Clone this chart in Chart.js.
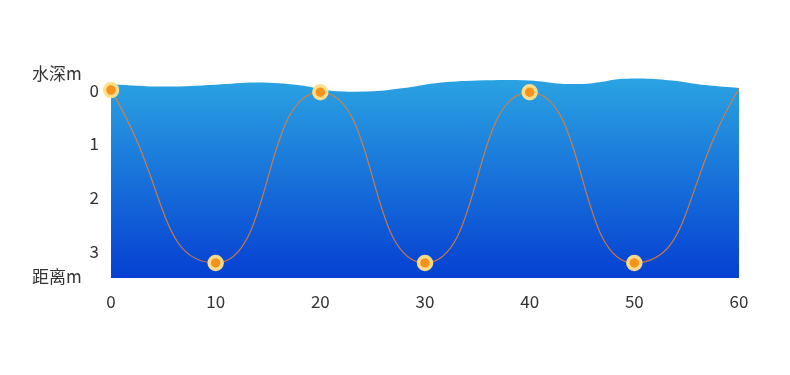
<!DOCTYPE html>
<html>
<head>
<meta charset="utf-8">
<script src="https://cdn.jsdelivr.net/npm/chart.js@4/dist/chart.umd.min.js"></script>
<style>
  body { margin: 0; background: #fff; }
  #wrap { width: 790px; height: 375px; }
</style>
</head>
<body>
<div id="wrap"><canvas id="depthChart" width="790" height="375"></canvas></div>
<script>
// distance along the route (m) and the depth of the dive path (m)
const distance = [0, 10, 20, 30, 40, 50, 60];
const depth = [0, 3.22, 0.04, 3.22, 0.04, 3.22, -0.03];
const markerShown = [true, true, true, true, true, true, false];

// water surface (wave)
const waveX = [0, 5, 10, 14, 18, 21, 25, 28, 31, 35, 40, 43, 46, 49, 53, 57, 60];
const waveDepth = [-0.11, -0.065, -0.10, -0.14, -0.09, 0.01, 0.02, -0.04, -0.13, -0.18, -0.18, -0.12, -0.13, -0.21, -0.19, -0.09, -0.04];

const xTicks = [0, 10, 20, 30, 40, 50, 60];
const yTicks = [0, 1, 2, 3];
const yGrid = [0, 0.5, 1, 1.5, 2, 2.5, 3, 3.5];

const yTitle = '水深m';
const xTitle = '距离m';
const font = '"Noto Sans CJK SC", "Noto Sans", sans-serif';

const axisTitles = {
    id: 'axisTitles',
    afterDraw(chart) {
        const c = chart.ctx;
        c.save();
        c.font = '17px ' + font;
        c.fillStyle = '#333';
        c.textAlign = 'left';
        c.textBaseline = 'middle';
        c.fillText(yTitle, 32, 74);
        c.fillText(xTitle, 32, 277);
        c.restore();
    }
};

const ctx = document.getElementById('depthChart').getContext('2d');
const depthChart = new Chart(ctx, {
    type: 'line',
    data: {
        datasets: [
            {
                label: 'path',
                data: distance.map((d, i) => ({ x: d, y: depth[i] })),
                borderColor: 'rgba(235, 125, 45, 0.85)',
                borderWidth: 1.2,
                tension: 0.55,
                pointRadius: markerShown.map(s => s ? 6.5 : 0),
                pointBackgroundColor: '#f7921c',
                pointBorderColor: 'rgba(255, 224, 140, 0.95)',
                pointBorderWidth: 3.5,
                fill: false,
                clip: false,
                order: 0
            },
            {
                label: 'water',
                data: waveX.map((d, i) => ({ x: d, y: waveDepth[i] })),
                borderWidth: 0,
                pointRadius: 0,
                tension: 0.4,
                fill: { value: 3.5 },
                backgroundColor: (c) => {
                    const area = c.chart.chartArea;
                    if (!area) return '#1f7fe0';
                    const g = c.chart.ctx.createLinearGradient(0, area.top, 0, area.bottom);
                    g.addColorStop(0, '#2ba6e2');
                    g.addColorStop(1, '#0540d2');
                    return g;
                },
                order: 1
            }
        ]
    },
    options: {
        responsive: false,
        animation: false,
        layout: { padding: { top: 74, right: 51, left: 0, bottom: 0 } },
        scales: {
            x: {
                type: 'linear',
                min: 0,
                max: 60,
                z: 1,
                border: { display: false },
                afterBuildTicks: (s) => { s.ticks = xTicks.map(v => ({ value: v })); },
                afterFit: (s) => { s.height = 97; },
                grid: {
                    drawTicks: false,
                    color: (c) => (c.tick && c.tick.value > 0 && c.tick.value < 60) ? 'rgba(255,255,255,0.15)' : 'rgba(0,0,0,0)'
                },
                ticks: {
                    padding: 13,
                    color: '#333',
                    font: { size: 17, family: font }
                }
            },
            y: {
                type: 'linear',
                reverse: true,
                min: -0.3,
                max: 3.5,
                z: 1,
                border: { display: false },
                afterBuildTicks: (s) => { s.ticks = yGrid.map(v => ({ value: v })); },
                afterFit: (s) => { s.width = 111; },
                grid: {
                    drawTicks: false,
                    color: (c) => (c.tick && c.tick.value > 0 && c.tick.value < 3.5) ? 'rgba(255,255,255,0.15)' : 'rgba(0,0,0,0)'
                },
                ticks: {
                    padding: 12,
                    color: '#333',
                    font: { size: 17, family: font },
                    callback: (v) => yTicks.includes(v) ? String(v) : ''
                }
            }
        },
        plugins: {
            legend: { display: false },
            tooltip: { enabled: false }
        }
    },
    plugins: [axisTitles]
});
</script>
</body>
</html>
